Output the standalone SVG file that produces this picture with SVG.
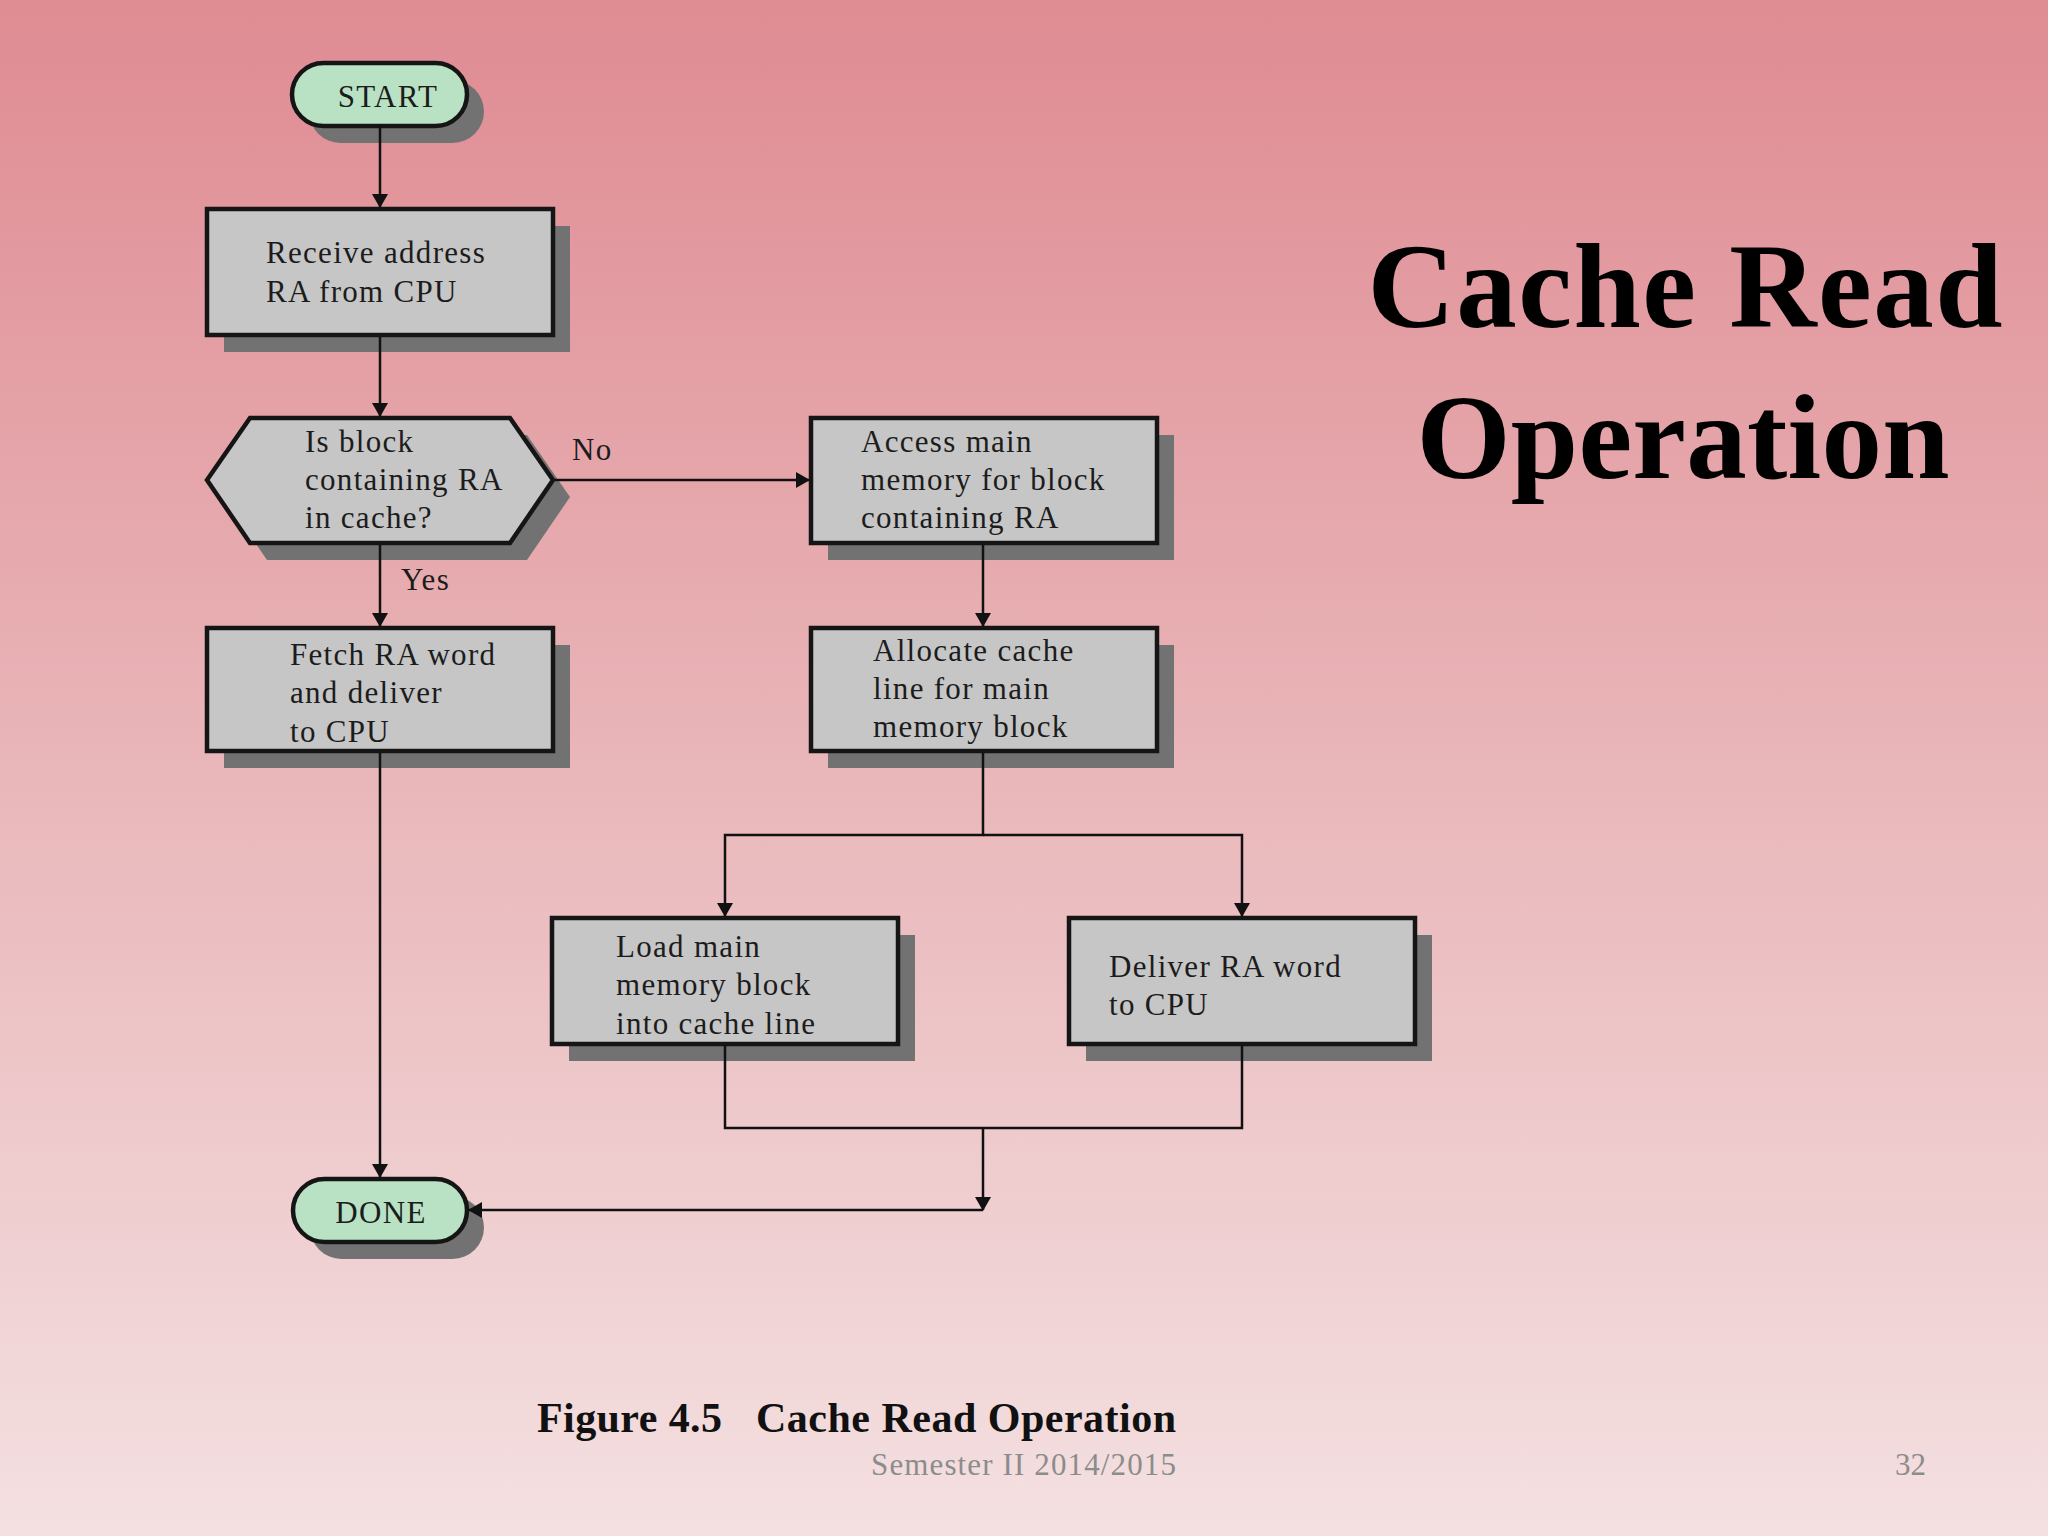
<svg xmlns="http://www.w3.org/2000/svg" width="2048" height="1536" viewBox="0 0 2048 1536">
<defs>
<linearGradient id="bg" x1="0" y1="0" x2="0" y2="1">
<stop offset="0" stop-color="#df8b92"/>
<stop offset="0.5" stop-color="#e9b6b9"/>
<stop offset="1" stop-color="#f4e0e1"/>
</linearGradient>
<marker id="arr" markerUnits="userSpaceOnUse" markerWidth="14" markerHeight="16" refX="13" refY="8" orient="auto">
<path d="M0,0 L14,8 L0,16 z" fill="#111"/>
</marker>
<style>
.box{fill:#c6c6c6;stroke:#151515;stroke-width:4.5}
.pill{fill:#b8e2c3;stroke:#151515;stroke-width:4.5}
.sh{fill:#727272}
.t{font-family:"Liberation Serif","Times New Roman",serif;font-size:31px;fill:#1c1c1c;letter-spacing:1.3px}
.c{fill:none;stroke:#111;stroke-width:2.5}
</style>
</defs>
<rect x="0" y="0" width="2048" height="1536" fill="url(#bg)"/>

<g id="title">
<text x="1685" y="327" text-anchor="middle" font-family="Liberation Serif, Times New Roman, serif" font-weight="bold" font-size="121" fill="#000" textLength="635">Cache Read</text>
<text x="1683" y="478" text-anchor="middle" font-family="Liberation Serif, Times New Roman, serif" font-weight="bold" font-size="121" fill="#000" textLength="533">Operation</text>
</g>

<g id="start">
<rect class="sh" x="309" y="80" width="175" height="63" rx="31.5"/>
<rect class="pill" x="292" y="63" width="175" height="63" rx="31.5"/>
<text class="t" x="388" y="107" text-anchor="middle">START</text>
</g>

<g id="receive">
<rect class="sh" x="224" y="226" width="346" height="126"/>
<rect class="box" x="207" y="209" width="346" height="126"/>
<text class="t" x="266" y="263">Receive address</text>
<text class="t" x="266" y="302">RA from CPU</text>
</g>

<g id="decision">
<polygon class="sh" points="224,497 267,435 527,435 570,497 527,560 267,560"/>
<polygon class="box" points="207,480 250,418 510,418 553,480 510,543 250,543"/>
<text class="t" x="305" y="452">Is block</text>
<text class="t" x="305" y="490">containing RA</text>
<text class="t" x="305" y="528">in cache?</text>
</g>

<g id="fetch">
<rect class="sh" x="224" y="645" width="346" height="123"/>
<rect class="box" x="207" y="628" width="346" height="123"/>
<text class="t" x="290" y="665">Fetch RA word</text>
<text class="t" x="290" y="703">and deliver</text>
<text class="t" x="290" y="742">to CPU</text>
</g>

<g id="access">
<rect class="sh" x="828" y="435" width="346" height="125"/>
<rect class="box" x="811" y="418" width="346" height="125"/>
<text class="t" x="861" y="452">Access main</text>
<text class="t" x="861" y="490">memory for block</text>
<text class="t" x="861" y="528">containing RA</text>
</g>

<g id="allocate">
<rect class="sh" x="828" y="645" width="346" height="123"/>
<rect class="box" x="811" y="628" width="346" height="123"/>
<text class="t" x="873" y="661">Allocate cache</text>
<text class="t" x="873" y="699">line for main</text>
<text class="t" x="873" y="737">memory block</text>
</g>

<g id="load">
<rect class="sh" x="569" y="935" width="346" height="126"/>
<rect class="box" x="552" y="918" width="346" height="126"/>
<text class="t" x="616" y="957">Load main</text>
<text class="t" x="616" y="995">memory block</text>
<text class="t" x="616" y="1034">into cache line</text>
</g>

<g id="deliver">
<rect class="sh" x="1086" y="935" width="346" height="126"/>
<rect class="box" x="1069" y="918" width="346" height="126"/>
<text class="t" x="1109" y="977">Deliver RA word</text>
<text class="t" x="1109" y="1015">to CPU</text>
</g>

<g id="done">
<rect class="sh" x="310" y="1196" width="174" height="63" rx="31.5"/>
<rect class="pill" x="293" y="1179" width="174" height="63" rx="31.5"/>
<text class="t" x="381" y="1223" text-anchor="middle">DONE</text>
</g>

<g id="connectors">
<path class="c" d="M380,126 V207" marker-end="url(#arr)"/>
<path class="c" d="M380,337 V416" marker-end="url(#arr)"/>
<path class="c" d="M380,545 V626" marker-end="url(#arr)"/>
<path class="c" d="M555,480 H809" marker-end="url(#arr)"/>
<path class="c" d="M983,545 V626" marker-end="url(#arr)"/>
<path class="c" d="M983,753 V835 H725 V916" marker-end="url(#arr)"/>
<path class="c" d="M983,835 H1242 V916" marker-end="url(#arr)"/>
<path class="c" d="M725,1046 V1128 H1242 V1046"/>
<path class="c" d="M983,1128 V1210" marker-end="url(#arr)"/>
<path class="c" d="M983,1210 H469" marker-end="url(#arr)"/>
<path class="c" d="M380,753 V1177" marker-end="url(#arr)"/>
<text class="t" x="572" y="460">No</text>
<text class="t" x="401" y="590">Yes</text>
</g>

<g id="caption">
<text x="537" y="1432" font-family="Liberation Serif, Times New Roman, serif" font-weight="bold" font-size="42" fill="#111" textLength="185">Figure 4.5</text>
<text x="756" y="1432" font-family="Liberation Serif, Times New Roman, serif" font-weight="bold" font-size="42" fill="#111" textLength="420">Cache Read Operation</text>
<text x="871" y="1475" font-family="Liberation Serif, Times New Roman, serif" font-size="31" fill="#8c8c8c" textLength="305">Semester II 2014/2015</text>
<text x="1895" y="1475" font-family="Liberation Serif, Times New Roman, serif" font-size="31" fill="#8c8c8c">32</text>
</g>
</svg>
